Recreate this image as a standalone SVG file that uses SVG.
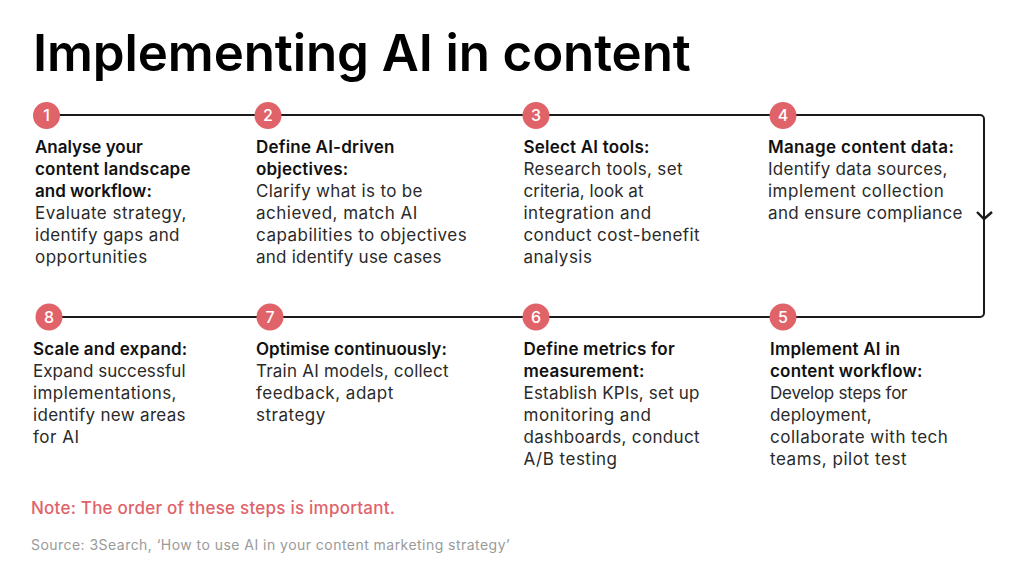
<svg xmlns="http://www.w3.org/2000/svg" width="1024" height="576" viewBox="0 0 1024 576">
<style>
text{font-family:"Inter","Liberation Sans",sans-serif;fill:#2a2a2a}
.t{font-size:17px;letter-spacing:.5px}
.b{font-size:17px;font-weight:600;letter-spacing:.2px;fill:#111}
.n{font-size:16px;font-weight:500;fill:#fff;text-anchor:middle}
.c{fill:#e0636a}
.l{fill:none;stroke:#1a1a1a;stroke-width:2}
</style>
<rect width="1024" height="576" fill="#fff"/>
<text x="33" y="71" style="font-size:51px;font-weight:600;fill:#000;letter-spacing:-.1px">Implementing AI in content</text>
<g id="connectors">
<path class="l" d="M46 115H980a4 4 0 0 1 4 4V313a4 4 0 0 1-4 4H49"/>
<path class="l" d="M977 212l7 7l8-7" style="stroke-width:2.4"/>
</g>
<g id="node1"><circle class="c" cx="46.500" cy="115.500" r="13.500"/><text class="n" x="46.500" y="121">1</text>
<text class="b" x="35" y="153" textLength="108">Analyse your</text><text class="b" x="35" y="175">content landscape</text><text class="b" x="35" y="197" textLength="117">and workflow:</text><text class="t" x="35" y="219">Evaluate strategy,</text><text class="t" x="35" y="241" textLength="145">identify gaps and</text><text class="t" x="35" y="263">opportunities</text></g>
<g id="node2"><circle class="c" cx="268" cy="115.500" r="13.500"/><text class="n" x="268" y="121">2</text>
<text class="b" x="256" y="153">Define AI-driven</text><text class="b" x="256" y="175">objectives:</text><text class="t" x="256" y="197" textLength="167">Clarify what is to be</text><text class="t" x="256" y="219">achieved, match AI</text><text class="t" x="256" y="241">capabilities to objectives</text><text class="t" x="256" y="263" textLength="186">and identify use cases</text></g>
<g id="node3"><circle class="c" cx="536" cy="115.500" r="13.500"/><text class="n" x="536" y="121">3</text>
<text class="b" x="523.500" y="153">Select AI tools:</text><text class="t" x="523.500" y="175" textLength="159.500">Research tools, set</text><text class="t" x="523.500" y="197" textLength="120.500">criteria, look at</text><text class="t" x="523.500" y="219">integration and</text><text class="t" x="523.500" y="241" textLength="176.500">conduct cost-benefit</text><text class="t" x="523.500" y="263">analysis</text></g>
<g id="node4"><circle class="c" cx="783" cy="115.500" r="13.500"/><text class="n" x="783" y="121">4</text>
<text class="b" x="768" y="153" textLength="186">Manage content data:</text><text class="t" x="768" y="175" textLength="180">Identify data sources,</text><text class="t" x="768" y="197">implement collection</text><text class="t" x="768" y="219" textLength="195">and ensure compliance</text></g>
<g id="node5"><circle class="c" cx="783" cy="317" r="13.500"/><text class="n" x="783" y="323">5</text>
<text class="b" x="770" y="355">Implement AI in</text><text class="b" x="770" y="377">content workflow:</text><text class="t" x="770" y="399" textLength="138">Develop steps for</text><text class="t" x="770" y="421" style="letter-spacing:.2px">deployment,</text><text class="t" x="770" y="443">collaborate with tech</text><text class="t" x="770" y="465" textLength="137">teams, pilot test</text></g>
<g id="node6"><circle class="c" cx="536" cy="317" r="13.500"/><text class="n" x="536" y="323">6</text>
<text class="b" x="523.500" y="355">Define metrics for</text><text class="b" x="523.500" y="377">measurement:</text><text class="t" x="523.500" y="399" textLength="176.500">Establish KPIs, set up</text><text class="t" x="523.500" y="421">monitoring and</text><text class="t" x="523.500" y="443" textLength="176.500">dashboards, conduct</text><text class="t" x="523.500" y="465">A/B testing</text></g>
<g id="node7"><circle class="c" cx="270" cy="317" r="13.500"/><text class="n" x="270" y="323">7</text>
<text class="b" x="256" y="355" textLength="191">Optimise continuously:</text><text class="t" x="256" y="377" textLength="193">Train AI models, collect</text><text class="t" x="256" y="399">feedback, adapt</text><text class="t" x="256" y="421">strategy</text></g>
<g id="node8"><circle class="c" cx="49" cy="317" r="13.500"/><text class="n" x="49" y="323">8</text>
<text class="b" x="33" y="355">Scale and expand:</text><text class="t" x="33" y="377" textLength="153">Expand successful</text><text class="t" x="33" y="399" textLength="144">implementations,</text><text class="t" x="33" y="421" textLength="153">identify new areas</text><text class="t" x="33" y="443">for AI</text></g>
<text x="31" y="514" style="font-size:17px;font-weight:500;fill:#e0636a;letter-spacing:.23px">Note: The order of these steps is important.</text>
<text x="31" y="550" style="font-size:14px;fill:#9a9a9a;letter-spacing:.46px">Source: 3Search, ‘How to use AI in your content marketing strategy’</text>
</svg>
